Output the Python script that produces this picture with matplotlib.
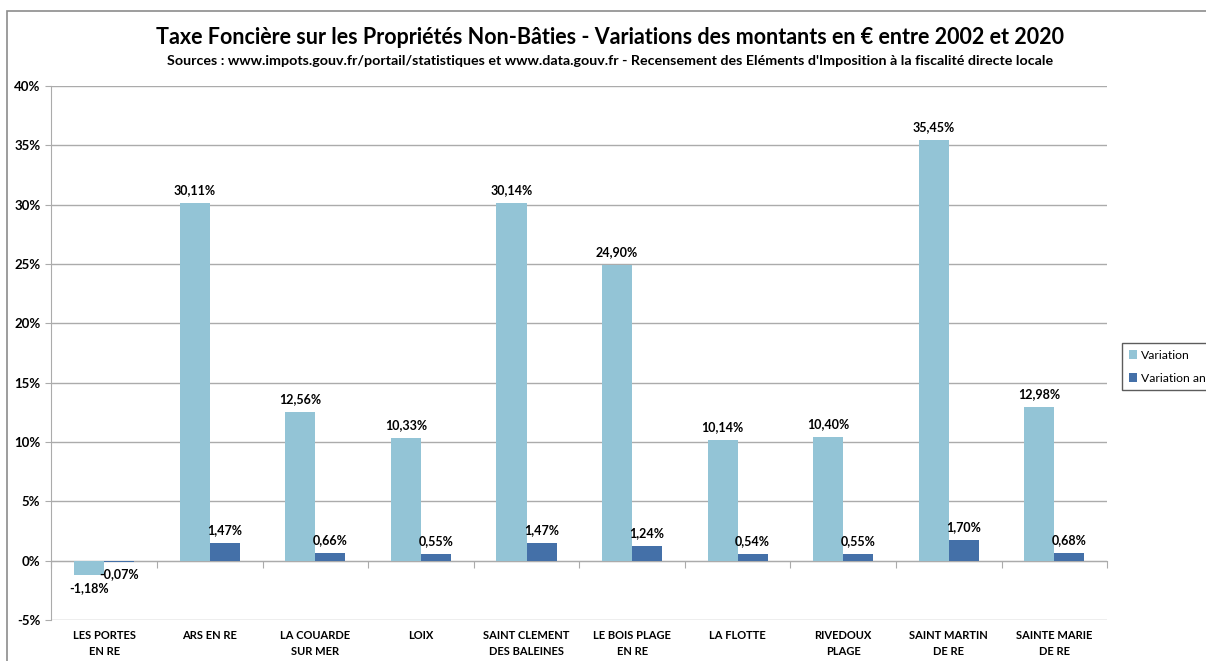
import matplotlib
matplotlib.use("Agg")
import matplotlib.pyplot as plt
import matplotlib.transforms as mtransforms
from matplotlib.patches import Rectangle
import numpy as np

plt.rcParams['font.family'] = ['Lato', 'DejaVu Sans']

communes = ["LES PORTES\nEN RE", "ARS EN RE", "LA COUARDE\nSUR MER", "LOIX",
            "SAINT CLEMENT\nDES BALEINES", "LE BOIS PLAGE\nEN RE", "LA FLOTTE",
            "RIVEDOUX\nPLAGE", "SAINT MARTIN\nDE RE", "SAINTE MARIE\nDE RE"]
variation = [-1.18, 30.11, 12.56, 10.33, 30.14, 24.90, 10.14, 10.40, 35.45, 12.98]
variation_an = [-0.07, 1.47, 0.66, 0.55, 1.47, 1.24, 0.54, 0.55, 1.70, 0.68]
yticks = [-5, 0, 5, 10, 15, 20, 25, 30, 35, 40]

c_light = "#93C4D6"
c_dark = "#4470A8"
grid_c = "#ABABAB"

fig = plt.figure(figsize=(12.06, 6.61), dpi=100)
ax = fig.add_axes([0.0427, 0.062, 0.8753, 0.808])

# outer chart border
fig.patches.append(Rectangle((0.006, -0.05), 1.2, 1.034, transform=fig.transFigure,
                             fill=False, edgecolor="#8C8C8C", linewidth=1.2))

x = np.arange(len(communes))
w = 0.285
b1 = ax.bar(x - w / 2, variation, w, color=c_light, label="Variation", zorder=3)
b2 = ax.bar(x + w / 2, variation_an, w, color=c_dark, label="Variation annuelle", zorder=3)

def fmt(v):
    return ("%.2f" % v).replace(".", ",") + "%"

for bars, vals in ((b1, variation), (b2, variation_an)):
    for r, v in zip(bars, vals):
        cx = r.get_x() + r.get_width() / 2
        if v >= 0:
            ax.annotate(fmt(v), (cx, v), xytext=(0, 5), textcoords="offset points",
                        ha="center", va="bottom", fontsize=9, fontweight="bold")
        else:
            ax.annotate(fmt(v), (cx, v), xytext=(0, -5), textcoords="offset points",
                        ha="center", va="top", fontsize=9, fontweight="bold")

ax.set_xlim(-0.5, len(communes) - 0.5)
ax.set_ylim(-5, 40)
ax.set_yticks(yticks)
ax.set_yticklabels(["%d%%" % t for t in yticks], fontsize=9.5, fontweight="bold")
ax.yaxis.grid(True, color=grid_c, linewidth=1, zorder=0)
ax.tick_params(axis="y", length=4, color=grid_c, pad=4)

# x axis at 0 with boundary ticks
ax.spines["bottom"].set_position(("data", 0))
ax.spines["bottom"].set_color(grid_c)
ax.set_xticks(np.arange(-0.5, len(communes), 1.0))
ax.set_xticklabels([])
ax.tick_params(axis="x", length=5, color=grid_c, direction="out")
for s in ("top", "right"):
    ax.spines[s].set_visible(False)
ax.spines["left"].set_color(grid_c)

trans = mtransforms.blended_transform_factory(ax.transData, ax.transAxes)
for xi, name in zip(x, communes):
    ax.text(xi, -0.018, name, transform=trans, ha="center", va="top",
            fontsize=8, fontweight="bold", linespacing=1.6)

fig.text(0.506, 0.944, "Taxe Foncière sur les Propriétés Non-Bâties - Variations des montants en € entre 2002 et 2020",
         ha="center", va="center", fontsize=15.5, fontweight="bold")
fig.text(0.506, 0.908, "Sources : www.impots.gouv.fr/portail/statistiques et www.data.gouv.fr - Recensement des Eléments d'Imposition à la fiscalité directe locale",
         ha="center", va="center", fontsize=10.3, fontweight="bold")

leg = fig.legend(loc="upper left", bbox_to_anchor=(0.9303, 0.481), fontsize=8.7,
                 handlelength=0.7, handleheight=0.7, handletextpad=0.3,
                 frameon=True, fancybox=False, edgecolor="#333333", borderpad=0.55,
                 labelspacing=1.0, borderaxespad=0)
leg.get_frame().set_linewidth(1.0)

fig.savefig("out.png", dpi=100)
